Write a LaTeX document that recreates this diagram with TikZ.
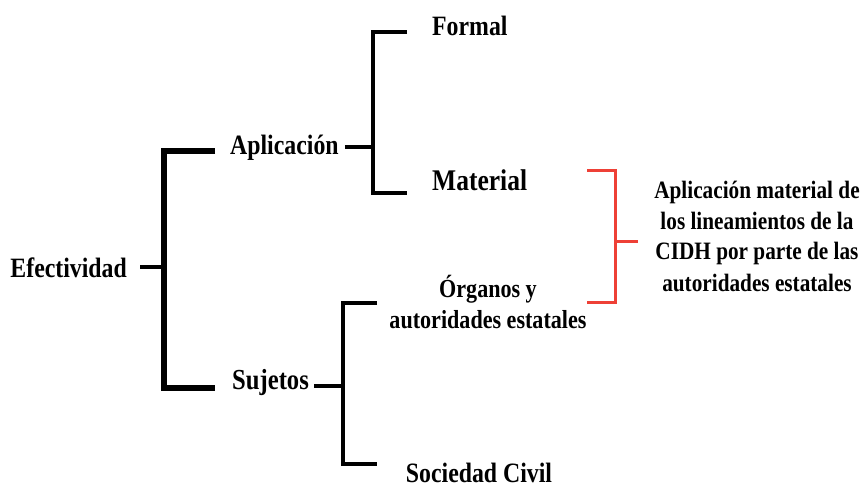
\documentclass[tikz,border=0pt]{standalone}
\usepackage{fontspec}
\setmainfont{Liberation Serif}[FakeStretch=0.85]
\definecolor{brred}{HTML}{EE4036}
\begin{document}
\begin{tikzpicture}[x=1pt,y=-1pt,
  lbl/.style={inner sep=0pt,font=\bfseries\fontsize{28}{30}\selectfont},
  br1/.style={line width=5.5pt,line join=miter},
  br2/.style={line width=3.8pt,line join=miter},
  tick/.style={line width=4pt},
  redbr/.style={draw=brred,line width=3pt,line join=miter}]
\useasboundingbox (0,0) rectangle (865,489);
% labels
\node[lbl,anchor=base east] (eff) at (127,277) {Efectividad};
\node[lbl,anchor=base west] (apl) at (230,155) {Aplicación};
\node[lbl,anchor=base west] (suj) at (232,389) {\fontsize{29}{30}\selectfont Sujetos};
\node[lbl,anchor=base west] (for) at (432,36) {Formal};
\node[lbl,anchor=base west] (mat) at (432,191) {\fontsize{30}{30}\selectfont Material};
\node[lbl,anchor=base,align=center,font=\bfseries\fontsize{26}{31}\selectfont] (org) at (488,328) {Órganos y\\autoridades estatales};
\node[lbl,anchor=base] (soc) at (479,482) {Sociedad Civil};
\node[lbl,anchor=base,align=center,font=\bfseries\fontsize{25}{31}\selectfont] (txt) at (757,291) {Aplicación material de\\los lineamientos de la\\CIDH por parte de las\\autoridades estatales};
% bracket 1
\coordinate (b1t) at (164,151);
\coordinate (b1b) at (164,388);
\coordinate (b1m) at (164,267);
\coordinate (b1te) at (215,151);
\coordinate (b1be) at (215,388);
\draw[tick] ([xshift=13pt]eff.east |- b1m) -- (b1m);
\draw[br1] (b1te) -- (b1t) -- (b1b) -- (b1be);
% bracket 2
\coordinate (b2t) at (373,32);
\coordinate (b2b) at (373,193);
\coordinate (b2m) at (373,147);
\coordinate (b2te) at (407,32);
\coordinate (b2be) at (407,193);
\draw[tick] ([xshift=6pt]apl.east |- b2m) -- (b2m);
\draw[br2] (b2te) -- (b2t) -- (b2b) -- (b2be);
% bracket 3
\coordinate (b3t) at (343,303);
\coordinate (b3b) at (343,464);
\coordinate (b3m) at (343,386);
\coordinate (b3te) at (377,303);
\coordinate (b3be) at (377,464);
\draw[tick] ([xshift=5pt]suj.east |- b3m) -- (b3m);
\draw[br2] (b3te) -- (b3t) -- (b3b) -- (b3be);
% red bracket
\coordinate (r1t) at (587,171);
\coordinate (r1tc) at (615,171);
\coordinate (r1bc) at (615,302);
\coordinate (r1b) at (587,302);
\coordinate (r1m) at (615,242);
\coordinate (r1me) at (638,242);
\draw[redbr] (r1t) -- (r1tc) -- (r1bc) -- (r1b);
\draw[redbr] (r1m) -- (r1me);
\end{tikzpicture}
\end{document}
